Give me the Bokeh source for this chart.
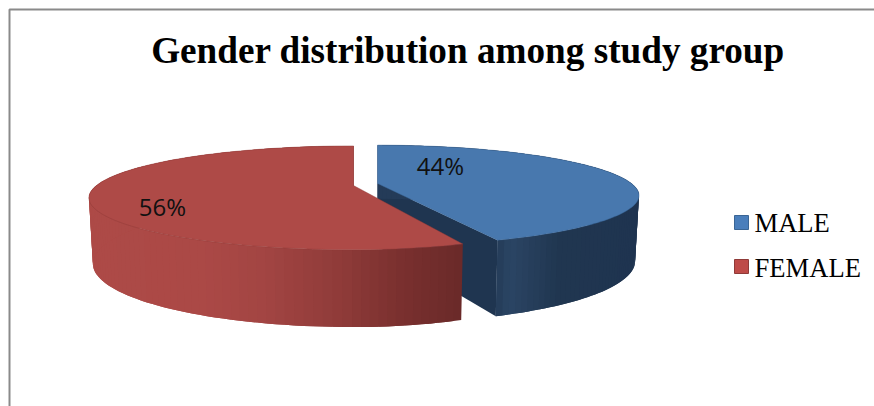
import numpy as np
from bokeh.core.properties import value
from bokeh.embed import file_html
from bokeh.models import Range1d
from bokeh.plotting import figure
from bokeh.resources import INLINE

title_text = "Gender distribution among study group"
categories = ["MALE", "FEMALE"]
shares = [44, 56]
share_labels = ["44%", "56%"]

WIDTH, HEIGHT = 874, 406
K = 0.238          # perspective strength of the tilted disc
TOP_COLORS = ["#4878AE", "#AE4A47"]
LEGEND_COLORS = ["#4A7EBB", "#BE4B48"]
EDGE_COLORS = ["#3A6595", "#8F3A38"]
APEX = [(377.0, 183.0), (353.0, 185.0)]   # exploded slice apexes, page pixels
SCALE_X = [254.0, 257.0]
SCALE_Y = [47.5, 49.0]
RIGHT_SQUEEZE = [1.0, 0.9]                # horizontal foreshortening right of the apex
DEPTH = 63.0

RED_STOPS = ([88, 200, 260, 340, 400, 462],
             ["#AD4A47", "#AB4946", "#A34543", "#8F3B39", "#7A302F", "#6A2A29"])
BLUE_STOPS = ([497, 510, 560, 640],
              ["#243B58", "#2B4564", "#203650", "#1F3450"])


def hex_rgb(c):
    return np.array([int(c[i:i + 2], 16) for i in (1, 3, 5)], dtype=float)


def ramp(x, stops):
    xs, cols = stops
    rgb = np.array([hex_rgb(c) for c in cols])
    vals = [np.interp(x, xs, rgb[:, i]) for i in range(3)]
    return "#%02x%02x%02x" % tuple(int(round(v)) for v in vals)


def project(theta, i):
    """Disc rim point for clockwise angle theta (radians, 0 at twelve o'clock)."""
    X, Y = np.sin(theta), np.cos(theta)
    w = 1 + K * Y
    sx = np.where(X > 0, RIGHT_SQUEEZE[i], 1.0)
    x = APEX[i][0] + SCALE_X[i] * sx * X / w
    y = APEX[i][1] - SCALE_Y[i] * Y / w
    return x, y, w


def drop(x, y, w, i):
    """Lower edge of the wall beneath a rim point."""
    return APEX[i][0] + (x - APEX[i][0]) * 0.985, y + DEPTH * w ** -0.75


p = figure(width=WIDTH, height=HEIGHT, x_range=Range1d(0, WIDTH), y_range=Range1d(HEIGHT, 0),
           output_backend="svg", toolbar_location=None, min_border=0)
p.axis.visible = False
p.grid.visible = False
p.outline_line_color = None
p.background_fill_color = "white"
p.border_fill_color = "white"

# Page frame
p.line([9, 9, WIDTH], [HEIGHT, 9, 9], line_color="#8A8A8A", line_width=2)

cut = 2 * np.pi * shares[0] / sum(shares)
spans = [(0.0, cut), (cut, 2 * np.pi)]
stops = [BLUE_STOPS, RED_STOPS]

for i in (0, 1):
    a, b = spans[i]
    th = np.linspace(a, b, 121)
    x, y, w = project(th, i)
    bx, by = drop(x, y, w, i)

    if i == 0:
        # Cut face running back from the outer corner of the blue slice
        ax0, ay0 = APEX[0]
        cx, cy, cw = x[-1], y[-1], w[-1]
        dx, dy = drop(cx, cy, cw, 0)
        p.patch([ax0, cx, dx, ax0], [ay0, cy, dy, ay0 + DEPTH],
                fill_color="#1F3550", line_color=None)

    # Outer wall in narrow strips; each one overlaps its neighbour so no seams show
    xs, ys, cols = [], [], []
    for j in range(len(th) - 1):
        k = min(j + 2, len(th) - 1)
        xs.append([x[j], x[j + 1], x[k], bx[k], bx[j + 1], bx[j]])
        ys.append([y[j], y[j + 1], y[k], by[k], by[j + 1], by[j]])
        cols.append(ramp((x[j] + x[j + 1]) / 2, stops[i]))
    p.patches(xs, ys, fill_color=cols, line_color=None)

    # Top face
    p.patch(list(x) + [APEX[i][0]], list(y) + [APEX[i][1]],
            fill_color=TOP_COLORS[i], line_color=EDGE_COLORS[i], line_width=0.7, line_alpha=0.6)

# Slice labels
p.text([440, 162], [165, 206], text=share_labels, text_font=value("Open Sans"),
       text_font_size="24px", text_color="#111111", text_align="center", text_baseline="middle")

# Title
p.text([467.5], [50], text=[title_text], text_font=value("Liberation Serif"),
       text_font_style="bold", text_font_size="37.2px", text_color="black",
       text_align="center", text_baseline="middle")

# Legend
p.rect([741, 741], [222, 266], width=14, height=14, fill_color=LEGEND_COLORS,
       line_color=["#3A6595", "#8F3A38"], line_width=1)
p.text([754, 754], [222, 267], text=categories, text_font=value("Liberation Serif"),
       text_font_size="26.6px", text_color="black", text_align="left", text_baseline="middle")

open("out.html", "w").write(file_html(p, INLINE))
